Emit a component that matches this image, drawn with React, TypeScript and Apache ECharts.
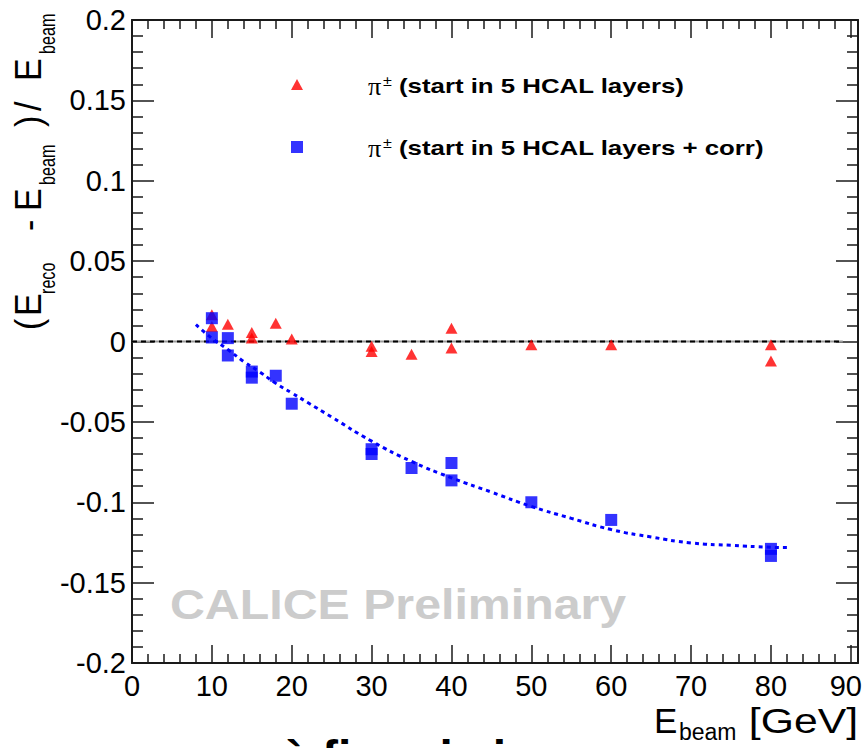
import React, { useEffect, useRef } from 'react';
import * as echarts from 'echarts';

const FONT = '"Liberation Sans", Arial, Helvetica, sans-serif';

const redName = 'π± (start in 5 HCAL layers)';
const blueName = 'π± (start in 5 HCAL layers + corr)';

// red triangles: pi+- start in 5 HCAL layers
const redX = [10, 10, 12, 15, 15, 18, 20, 30, 30, 35, 40, 40, 50, 60, 80, 80];
const redY = [0.0166, 0.0093, 0.0108, 0.0056, 0.0021, 0.0114, 0.0015, -0.003, -0.0062, -0.0079, 0.0083, -0.0041, -0.002, -0.002, -0.002, -0.0122];

// blue squares: corrected
const blueX = [10, 10, 12, 12, 15, 15, 18, 20, 30, 30, 35, 40, 40, 50, 60, 80, 80];
const blueY = [0.0145, 0.0025, 0.0021, -0.0087, -0.0187, -0.0225, -0.0213, -0.0387, -0.067, -0.070, -0.0787, -0.0756, -0.0864, -0.100, -0.111, -0.129, -0.1334];

// dotted fit curve
const fitX = [8, 10, 12, 14, 16, 18, 20, 22, 25, 30, 35, 40, 45, 50, 55, 60, 65, 70, 75, 80, 82];
const fitY = [0.0105, 0.002, -0.005, -0.0125, -0.019, -0.026, -0.032, -0.038, -0.047, -0.062, -0.0746, -0.0848, -0.0937, -0.1026, -0.110, -0.117, -0.1216, -0.1253, -0.1268, -0.128, -0.1282];

// reference line at zero
const zeroX = [0, 89];
const zeroY = [0, 0];

const xTicks = { min: 0, max: 90.9, interval: 10 };
const yTicks = { min: -0.2, max: 0.2, interval: 0.05 };

const AXIS_COLOR = '#1a1a1a';

const yTitleParts = [
  { t: '(', lx: 3, sub: false },
  { t: 'E', lx: 17, sub: false },
  { t: 'reco', lx: 39, sub: true },
  { t: '-', lx: 102, sub: false },
  { t: 'E', lx: 122, sub: false },
  { t: 'beam', lx: 148, sub: true },
  { t: ')', lx: 206, sub: false },
  { t: '/', lx: 222, sub: false },
  { t: 'E', lx: 252, sub: false },
  { t: 'beam', lx: 279, sub: true },
];

function buildOption(): any {
  const xBase = (pos: 'bottom' | 'top', labels: boolean) => ({
    type: 'value',
    position: pos,
    min: xTicks.min,
    max: xTicks.max,
    interval: xTicks.interval,
    axisLine: { show: true, onZero: false, lineStyle: { color: AXIS_COLOR, width: 2 } },
    axisTick: { show: true, inside: true, length: 18, lineStyle: { color: AXIS_COLOR, width: 1.5 } },
    minorTick: { show: true, splitNumber: 5, length: 9, lineStyle: { color: AXIS_COLOR, width: 1.5 } },
    axisLabel: {
      show: labels,
      showMaxLabel: false,
      fontSize: 29,
      fontFamily: FONT,
      color: '#000',
      margin: 8,
      formatter: (v: number) => (v >= 90 ? '{r|' + v + '}' : String(v)),
      rich: { r: { fontSize: 29, fontFamily: FONT, color: '#000', padding: [0, 10, 0, 0] } },
    },
    splitLine: { show: false },
    minorSplitLine: { show: false },
  });
  const yBase = (pos: 'left' | 'right', labels: boolean) => ({
    type: 'value',
    position: pos,
    min: yTicks.min,
    max: yTicks.max,
    interval: yTicks.interval,
    axisLine: { show: true, onZero: false, lineStyle: { color: AXIS_COLOR, width: 2 } },
    axisTick: { show: true, inside: true, length: 22, lineStyle: { color: AXIS_COLOR, width: 1.5 } },
    minorTick: { show: true, splitNumber: 5, length: 11, lineStyle: { color: AXIS_COLOR, width: 1.5 } },
    axisLabel: {
      show: labels,
      fontSize: 29,
      fontFamily: FONT,
      color: '#000',
      margin: 6,
      formatter: (v: number) => String(Math.round(v * 100) / 100),
    },
    splitLine: { show: false },
  });

  const yTitle = {
    type: 'group',
    x: 0,
    y: 333,
    rotation: Math.PI / 2,
    children: yTitleParts.map((p) => ({
      type: 'text',
      x: p.lx,
      y: p.sub ? 48 : 28.5,
      scaleX: p.sub ? 0.85 : 1,
      scaleY: p.sub ? 1.15 : 1.1,
      style: {
        text: p.t,
        fontSize: p.sub ? 19 : 34,
        fontFamily: FONT,
        fill: '#000',
        align: 'left',
        verticalAlign: 'middle',
      },
    })),
  };

  const txt = (text: string, x: number, y: number, o: any = {}) => ({
    type: 'text',
    x,
    y,
    scaleX: o.scaleX ?? 1,
    z: 10,
    style: {
      text,
      fontSize: o.fontSize ?? 21,
      fontFamily: o.fontFamily ?? FONT,
      fontWeight: o.fontWeight ?? 'normal',
      fill: o.fill ?? '#000',
      align: o.align ?? 'left',
      verticalAlign: 'middle',
    },
  });

  const legendText = (rest: string, y: number) => [
    txt('π', 368, y + 1, { fontSize: 25, fontFamily: '"Liberation Serif", "DejaVu Serif", serif', scaleX: 1.05 }),
    txt('±', 383, y - 5, { fontSize: 14, scaleX: 1.15 }),
    txt(rest, 399, y, { fontSize: 21, fontWeight: 'bold', scaleX: 1.23 }),
  ];

  return {
    animation: false,
    backgroundColor: '#ffffff',
    grid: { left: 132, right: 7, top: 20, bottom: 85, containLabel: false, outerBoundsMode: 'none' },
    xAxis: [xBase('bottom', true), xBase('top', false)],
    yAxis: [yBase('left', true), yBase('right', false)],
    legend: [
      {
        data: [redName],
        left: 291,
        top: 79,
        padding: 0,
        icon: 'triangle',
        itemWidth: 12,
        itemHeight: 11,
        formatter: () => '',
        selectedMode: false,
      },
      {
        data: [blueName],
        left: 291,
        top: 141,
        padding: 0,
        icon: 'rect',
        itemWidth: 12,
        itemHeight: 12,
        formatter: () => '',
        selectedMode: false,
      },
    ],
    series: [
      {
        type: 'line',
        name: 'zero',
        data: zeroX.map((x, i) => [x, zeroY[i]]),
        symbol: 'none',
        silent: true,
        lineStyle: { color: '#9a9a9a', width: 2 },
        z: 1,
      },
      {
        type: 'line',
        name: 'zero dashed',
        data: zeroX.map((x, i) => [x, zeroY[i]]),
        symbol: 'none',
        silent: true,
        lineStyle: { color: '#000', width: 2, type: [5, 4] },
        z: 2,
      },
      {
        type: 'line',
        name: 'fit',
        data: fitX.map((x, i) => [x, fitY[i]]),
        smooth: true,
        symbol: 'none',
        silent: true,
        lineStyle: { color: '#0000ff', width: 3, type: [4, 4] },
        z: 3,
      },
      {
        type: 'scatter',
        name: redName,
        data: redX.map((x, i) => [x, redY[i]]),
        symbol: 'triangle',
        symbolSize: [12, 11],
        itemStyle: { color: '#ff0000' },
        z: 4,
      },
      {
        type: 'scatter',
        name: blueName,
        data: blueX.map((x, i) => [x, blueY[i]]),
        symbol: 'rect',
        symbolSize: 12,
        itemStyle: { color: '#0000ff' },
        z: 5,
      },
    ],
    graphic: [
      yTitle,
      txt('E', 654, 720.5, { fontSize: 35 }),
      txt('beam', 679, 732, { fontSize: 23 }),
      txt('[GeV]', 858, 720.5, { fontSize: 35, align: 'right', scaleX: 1.22 }),
      ...legendText('(start in 5 HCAL layers)', 85.5),
      ...legendText('(start in 5 HCAL layers + corr)', 147.5),
      txt('CALICE Preliminary', 170, 605, { fontSize: 42, fontWeight: 'bold', fill: '#cccccc', scaleX: 1.15 }),
      txt('à finer is in', 282, 757.5, { fontSize: 48, fontWeight: 'bold' }),
    ],
  };
}

export default function App() {
  const ref = useRef<HTMLDivElement>(null);
  useEffect(() => {
    if (!ref.current) return;
    const chart = echarts.init(ref.current, null, { renderer: 'svg' });
    chart.setOption(buildOption());
    return () => chart.dispose();
  }, []);
  return (
    <div
      ref={ref}
      style={{ position: 'absolute', left: 0, top: 0, width: 865, height: 748, overflow: 'hidden' }}
    />
  );
}
